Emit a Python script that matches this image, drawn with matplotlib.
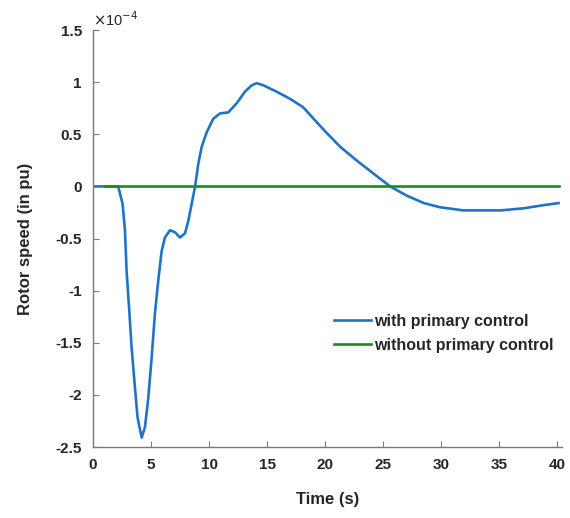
import matplotlib
matplotlib.use("Agg")
import matplotlib.pyplot as plt

# Data (rotor speed in units of 1e-4 pu)
t_with = [0, 1, 2.18, 2.56, 2.76, 2.9, 3.13, 3.33, 3.62, 3.85, 4.2, 4.48, 4.77, 5.06,
          5.34, 5.63, 5.92, 6.2, 6.64, 7.07, 7.5, 7.93, 8.22, 8.5, 8.8, 9.08, 9.37,
          9.8, 10.37, 10.95, 11.66, 12.4, 13.1, 13.68, 14.1, 14.68, 15.8, 16.98, 18.1,
          19.9, 21.3, 22.7, 24.2, 25.6, 27.0, 28.5, 29.9, 31.9, 35.1, 37.1, 38.8, 40.1]
v_with = [0, 0, 0, -0.17, -0.42, -0.81, -1.19, -1.54, -1.93, -2.22, -2.41, -2.31, -2.03,
          -1.64, -1.22, -0.90, -0.62, -0.49, -0.42, -0.44, -0.49, -0.45, -0.33, -0.17,
          0, 0.22, 0.38, 0.52, 0.65, 0.70, 0.71, 0.80, 0.91, 0.97, 0.99, 0.97, 0.91,
          0.84, 0.76, 0.54, 0.38, 0.25, 0.12, 0, -0.087, -0.16, -0.2, -0.23, -0.23,
          -0.21, -0.18, -0.16]
t_without = [1.0, 40.1]
v_without = [0, 0]

xticks = [0, 5, 10, 15, 20, 25, 30, 35, 40]
yticks = [-2.5, -2, -1.5, -1, -0.5, 0, 0.5, 1, 1.5]
ytick_labels = ["-2.5", "-2", "-1.5", "-1", "-0.5", "0", "0.5", "1", "1.5"]

plt.rcParams['font.family'] = ['Liberation Sans', 'DejaVu Sans']

fig = plt.figure(figsize=(5.7, 5.18), dpi=100)
ax = fig.add_axes([0.163, 0.137, 0.823, 0.805])

blue = '#1f74c8'
green = '#16901c'
ax.plot(t_with, v_with, color=blue, lw=1.9, label='with primary control')
ax.plot(t_without, v_without, color=green, lw=1.9, label='without primary control')

ax.set_xlim(0, 40.4)
ax.set_ylim(-2.5, 1.5)
ax.set_xticks(xticks)
ax.set_xticklabels([str(x) for x in xticks])
ax.set_yticks(yticks)
ax.set_yticklabels(ytick_labels)

for s in ['top', 'right']:
    ax.spines[s].set_visible(False)
for s in ['left', 'bottom']:
    ax.spines[s].set_color('#7a7a7a')
    ax.spines[s].set_linewidth(1.0)

ax.tick_params(direction='in', length=4, color='#7a7a7a', labelsize=11,
               labelcolor='#262626')
ax.tick_params(axis='x', pad=8)
ax.tick_params(axis='y', pad=8)
for lab in ax.get_xticklabels() + ax.get_yticklabels():
    lab.set_fontweight('bold')

ax.set_xlabel('Time (s)', fontsize=12, fontweight='bold', color='#262626', labelpad=14)
ax.set_ylabel('Rotor speed (in pu)', fontsize=12, fontweight='bold', color='#262626',
              labelpad=16)

ax.text(0.0, 1.002, r'$\times$10$^{-4}$', transform=ax.transAxes, fontsize=10.5,
        color='#262626', ha='left', va='bottom')

leg = ax.legend(loc='upper left', bbox_to_anchor=(0.5, 0.335), frameon=False,
                fontsize=11.5, handlelength=2.3, handletextpad=0.2, labelspacing=0.55,
                borderaxespad=0)
for txt in leg.get_texts():
    txt.set_fontweight('bold')
    txt.set_color('#262626')

fig.savefig('out.png', dpi=100)
